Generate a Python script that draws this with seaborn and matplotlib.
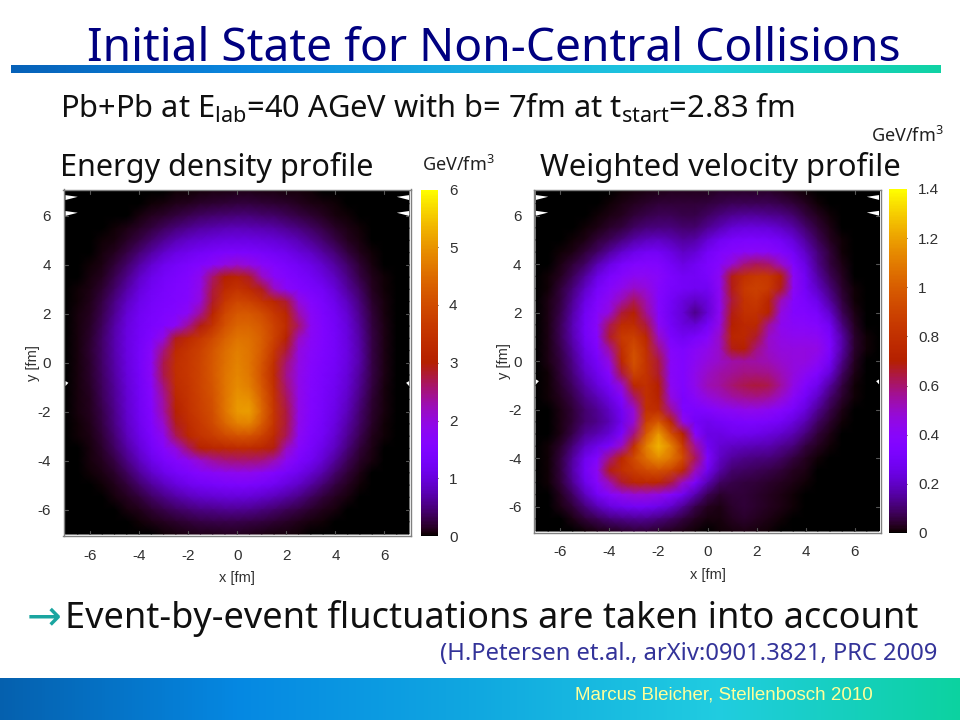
import numpy as np
import pandas as pd
import seaborn as sns
import matplotlib
matplotlib.use("Agg")
import matplotlib.pyplot as plt
from matplotlib.colors import LinearSegmentedColormap

sns.set_theme(style="white")
plt.rcParams["font.family"] = ["Noto Sans", "DejaVu Sans"]

W, H = 960, 720
grid_x = [-7, -6.5, -6, -5.5, -5, -4.5, -4, -3.5, -3, -2.5, -2, -1.5, -1, -.5, 0, .5, 1, 1.5, 2, 2.5, 3, 3.5, 4, 4.5, 5, 5.5, 6, 6.5, 7]
grid_y = grid_x[::-1]
axis_ticks = [-6, -4, -2, 0, 2, 4, 6]

energy_density = [
    [0,0,0,0,0,0,0,.01,.02,.03,.04,.06,.08,.09,.1,.1,.09,.08,.07,.05,.03,.02,.01,0,0,0,0,0,0],
    [0,0,0,0,0,0,.02,.04,.07,.1,.14,.18,.21,.23,.24,.24,.22,.2,.17,.13,.09,.06,.03,.01,0,0,0,0,0],
    [0,0,0,0,0,.02,.06,.12,.18,.25,.32,.38,.43,.46,.47,.47,.44,.4,.34,.27,.2,.13,.07,.03,.01,0,0,0,0],
    [0,0,0,0,.03,.08,.15,.25,.37,.48,.58,.66,.72,.76,.78,.77,.74,.68,.6,.5,.38,.27,.16,.08,.03,.01,0,0,0],
    [0,0,0,.03,.07,.15,.28,.43,.6,.76,.88,.96,1.02,1.06,1.07,1.06,1.03,.97,.88,.75,.6,.44,.28,.14,.06,.02,0,0,0],
    [0,0,.02,.05,.13,.26,.45,.66,.88,1.06,1.17,1.27,1.37,1.43,1.45,1.42,1.34,1.25,1.15,1.0,.85,.65,.45,.25,.11,.04,.01,0,0],
    [0,.01,.03,.09,.22,.4,.66,.92,1.15,1.3,1.42,1.55,1.72,1.95,2.1,1.95,1.72,1.55,1.4,1.25,1.08,.88,.65,.4,.2,.07,.02,0,0],
    [0,.02,.05,.14,.31,.56,.85,1.12,1.3,1.42,1.55,1.85,2.6,3.0,3.15,2.85,2.2,1.75,1.55,1.4,1.25,1.05,.8,.52,.28,.1,.03,0,0],
    [.01,.03,.08,.2,.42,.7,1.0,1.22,1.38,1.48,1.58,1.9,2.75,3.3,3.5,3.3,2.9,2.2,1.75,1.55,1.4,1.25,.98,.65,.38,.14,.04,.01,0],
    [.01,.04,.11,.26,.52,.83,1.12,1.3,1.42,1.52,1.62,2.0,2.85,3.6,3.9,3.8,3.5,3.2,2.8,2.0,1.6,1.38,1.12,.8,.47,.18,.06,.01,0],
    [.01,.05,.14,.32,.6,.95,1.2,1.38,1.48,1.58,1.8,2.4,3.15,3.9,4.2,4.2,4.0,3.6,3.2,2.3,1.75,1.45,1.22,.92,.55,.22,.07,.02,0],
    [.02,.06,.16,.37,.68,1.02,1.25,1.42,1.55,1.8,2.4,2.95,3.5,4.1,4.4,4.4,4.2,3.8,3.35,2.6,1.8,1.5,1.28,1.0,.62,.25,.08,.02,0],
    [.02,.07,.18,.4,.72,1.05,1.28,1.5,1.95,2.9,3.3,3.6,3.95,4.35,4.6,4.55,4.3,3.8,3.1,2.2,1.75,1.5,1.3,1.03,.66,.27,.09,.02,0],
    [.02,.07,.19,.42,.72,1.05,1.3,1.7,2.5,3.3,3.55,3.8,4.15,4.5,4.75,4.6,4.25,3.6,2.8,2.0,1.7,1.48,1.3,1.05,.68,.28,.09,.02,0],
    [.02,.07,.18,.4,.7,1.02,1.3,1.75,2.7,3.4,3.6,3.85,4.2,4.55,4.8,4.6,4.15,3.4,2.55,1.95,1.65,1.45,1.28,1.03,.68,.28,.09,.02,0],
    [.02,.06,.17,.38,.66,1.0,1.28,1.75,2.7,3.4,3.6,3.85,4.2,4.6,4.85,4.65,4.1,3.35,2.45,1.9,1.6,1.4,1.22,.98,.62,.26,.08,.02,0],
    [.02,.06,.16,.36,.63,.96,1.25,1.65,2.5,3.35,3.55,3.85,4.15,4.6,4.9,4.75,4.2,3.4,2.55,1.9,1.58,1.38,1.18,.92,.57,.24,.07,.02,0],
    [.02,.05,.14,.33,.6,.93,1.22,1.6,2.35,3.2,3.5,3.8,4.1,4.6,5.0,4.95,4.35,3.5,2.65,1.92,1.55,1.35,1.13,.85,.5,.21,.06,.01,0],
    [.01,.05,.13,.3,.56,.9,1.2,1.55,2.3,3.05,3.45,3.75,4.05,4.6,5.05,5.1,4.45,3.55,2.75,1.92,1.55,1.32,1.08,.78,.44,.18,.05,.01,0],
    [.01,.04,.11,.27,.52,.85,1.15,1.5,2.1,2.9,3.35,3.65,3.95,4.4,4.75,4.8,4.25,3.5,2.75,1.88,1.5,1.28,1.02,.7,.38,.15,.04,.01,0],
    [.01,.03,.09,.23,.46,.78,1.08,1.42,1.85,2.65,3.2,3.5,3.7,3.95,4.1,4.1,3.8,3.3,2.65,1.8,1.45,1.22,.93,.6,.31,.11,.03,0,0],
    [0,.02,.07,.18,.38,.66,.98,1.3,1.62,2.0,2.6,3.05,3.2,3.25,3.3,3.3,3.2,2.95,2.2,1.65,1.35,1.1,.8,.48,.23,.08,.02,0,0],
    [0,.01,.05,.12,.28,.52,.82,1.12,1.38,1.58,1.8,2.1,2.35,2.5,2.55,2.55,2.5,2.25,1.8,1.45,1.2,.92,.62,.35,.15,.05,.01,0,0],
    [0,0,.03,.08,.18,.36,.62,.88,1.12,1.3,1.45,1.6,1.72,1.8,1.85,1.85,1.75,1.55,1.35,1.15,.92,.68,.42,.22,.09,.02,0,0,0],
    [0,0,.01,.04,.1,.22,.4,.62,.82,1.0,1.13,1.25,1.33,1.38,1.4,1.38,1.3,1.18,1.02,.85,.65,.43,.25,.12,.04,.01,0,0,0],
    [0,0,0,.02,.05,.12,.23,.38,.53,.67,.78,.87,.93,.97,.98,.95,.88,.78,.66,.52,.37,.23,.12,.05,.02,0,0,0,0],
    [0,0,0,0,.02,.05,.11,.2,.3,.38,.46,.52,.56,.59,.6,.57,.5,.43,.35,.26,.18,.1,.05,.02,0,0,0,0,0],
    [0,0,0,0,0,.02,.04,.08,.13,.18,.22,.26,.29,.3,.3,.28,.25,.2,.16,.11,.07,.04,.02,0,0,0,0,0,0],
    [0,0,0,0,0,0,.01,.02,.04,.06,.08,.1,.11,.12,.12,.11,.09,.07,.05,.03,.02,.01,0,0,0,0,0,0,0],
]

weighted_velocity = [
    [0,0,0,0,0,0,.005,.01,.015,.02,.025,.03,.03,.03,.03,.04,.04,.04,.04,.04,.03,.02,.01,0,0,0,0,0,0],
    [0,0,0,0,0,.005,.01,.02,.03,.04,.05,.05,.05,.05,.06,.07,.08,.08,.08,.08,.07,.05,.03,.01,0,0,0,0,0],
    [0,0,0,0,.005,.01,.02,.03,.05,.07,.08,.08,.07,.07,.09,.12,.14,.15,.15,.14,.13,.1,.06,.03,.01,0,0,0,0],
    [0,0,0,.005,.01,.02,.04,.06,.09,.11,.12,.12,.1,.1,.14,.18,.22,.24,.24,.23,.2,.16,.1,.05,.02,0,0,0,0],
    [0,0,.005,.01,.02,.05,.08,.12,.16,.19,.2,.18,.15,.16,.22,.28,.32,.33,.33,.32,.29,.23,.15,.08,.03,.01,0,0,0],
    [0,0,.01,.02,.05,.09,.15,.21,.26,.29,.29,.25,.2,.22,.3,.35,.38,.4,.41,.4,.36,.3,.2,.11,.05,.01,0,0,0],
    [0,.005,.02,.05,.09,.17,.25,.32,.36,.37,.36,.3,.25,.28,.33,.38,.48,.58,.62,.6,.5,.36,.25,.13,.06,.02,.005,0,0],
    [0,.01,.03,.08,.15,.25,.33,.38,.42,.42,.39,.33,.29,.29,.32,.42,.68,.8,.85,.84,.72,.42,.28,.16,.08,.03,.005,0,0],
    [0,.01,.05,.11,.2,.31,.38,.44,.5,.47,.38,.32,.3,.28,.28,.42,.68,.85,.89,.85,.68,.42,.3,.2,.11,.04,.01,0,0],
    [0,.02,.06,.14,.25,.35,.43,.53,.62,.52,.37,.3,.24,.2,.24,.42,.65,.82,.85,.74,.52,.38,.33,.26,.15,.06,.01,0,0],
    [0,.02,.07,.16,.28,.38,.47,.65,.7,.56,.38,.28,.22,.13,.22,.42,.68,.8,.8,.72,.46,.37,.36,.32,.21,.08,.02,0,0],
    [0,.02,.08,.18,.3,.4,.62,.78,.78,.64,.42,.3,.24,.22,.3,.45,.7,.76,.75,.56,.43,.4,.39,.37,.28,.12,.03,.005,0],
    [0,.02,.08,.17,.29,.38,.66,.85,.88,.75,.5,.33,.28,.32,.38,.5,.74,.76,.66,.5,.45,.43,.43,.42,.33,.16,.04,.01,0],
    [0,.02,.07,.15,.26,.35,.55,.8,.94,.8,.58,.38,.34,.4,.44,.5,.68,.7,.58,.5,.47,.46,.46,.45,.34,.16,.04,.01,0],
    [0,.02,.06,.13,.23,.31,.46,.76,.96,.82,.65,.4,.36,.42,.47,.5,.54,.55,.54,.52,.49,.47,.46,.42,.3,.13,.03,.005,0],
    [0,.01,.05,.11,.2,.27,.38,.64,.9,.82,.66,.4,.36,.44,.5,.54,.56,.58,.58,.57,.52,.47,.42,.35,.23,.09,.02,0,0],
    [0,.01,.04,.09,.16,.23,.31,.48,.75,.8,.7,.42,.35,.44,.52,.55,.6,.63,.65,.63,.55,.45,.36,.27,.15,.06,.01,0,0],
    [0,.01,.03,.07,.13,.18,.25,.36,.6,.8,.72,.46,.33,.4,.46,.5,.54,.56,.57,.55,.49,.4,.3,.2,.1,.04,.01,0,0],
    [0,.005,.02,.05,.1,.14,.2,.29,.48,.8,.78,.56,.34,.33,.36,.4,.42,.44,.44,.42,.38,.32,.24,.14,.07,.02,.005,0,0],
    [0,.005,.02,.05,.1,.13,.18,.27,.48,.88,.98,.75,.44,.3,.27,.3,.32,.33,.33,.32,.29,.24,.17,.09,.04,.01,0,0,0],
    [0,.005,.02,.07,.14,.17,.22,.33,.58,.98,1.18,.95,.7,.38,.25,.25,.27,.27,.26,.24,.21,.17,.11,.05,.02,.005,0,0,0],
    [0,.01,.04,.11,.2,.26,.32,.5,.8,1.1,1.25,1.12,.85,.55,.28,.22,.2,.19,.18,.17,.14,.11,.06,.03,.01,0,0,0,0],
    [0,.01,.06,.15,.27,.36,.58,.76,.92,1.06,1.15,1.08,.92,.62,.34,.2,.15,.13,.12,.11,.09,.06,.03,.01,0,0,0,0,0],
    [0,.01,.06,.16,.29,.42,.68,.8,.86,.92,.95,.9,.76,.52,.28,.16,.1,.09,.08,.07,.05,.03,.02,.005,0,0,0,0,0],
    [0,.01,.05,.14,.26,.38,.53,.66,.74,.76,.74,.65,.5,.33,.18,.09,.07,.06,.05,.04,.03,.02,.01,0,0,0,0,0,0],
    [0,.005,.03,.09,.19,.3,.38,.44,.48,.48,.45,.38,.28,.17,.08,.04,.05,.05,.04,.03,.02,.01,.005,0,0,0,0,0,0],
    [0,0,.02,.05,.11,.18,.24,.27,.29,.29,.26,.21,.14,.07,.03,.02,.04,.05,.04,.03,.02,.01,0,0,0,0,0,0,0],
    [0,0,.005,.02,.05,.08,.11,.13,.14,.14,.12,.09,.06,.03,.015,.015,.03,.04,.03,.02,.01,.005,0,0,0,0,0,0,0],
    [0,0,0,.005,.01,.02,.03,.04,.05,.05,.04,.03,.02,.01,.005,.01,.015,.02,.015,.01,.005,0,0,0,0,0,0,0,0],
]

energy_ticks = [0, 1, 2, 3, 4, 5, 6]
velocity_ticks = [0, .2, .4, .6, .8, 1, 1.2, 1.4]
velocity_tick_labels = ["0", "0.2", "0.4", "0.6", "0.8", "1", "1.2", "1.4"]
notch_levels = [6.75, 6.1, -0.85]

rule_colors = ["#0661B8", "#0A86DE", "#18AEE0", "#1FCDDC", "#10D2A4"]
band_colors = ["#0560AE", "#0588E2", "#10A8E0", "#20CCE0", "#0CD2A0"]

fig = plt.figure(figsize=(W / 100, H / 100), dpi=100, facecolor="white")


def box(x0, y0, x1, y1):
    return [x0 / W, 1 - y1 / H, (x1 - x0) / W, (y1 - y0) / H]


def label(x, y, s, **kw):
    return fig.text(x / W, 1 - y / H, s, va="baseline", **kw)


def gradient(rect, colors):
    a = fig.add_axes(box(*rect))
    cmap = LinearSegmentedColormap.from_list("slide", colors)
    sns.heatmap(pd.DataFrame([np.arange(960)]), ax=a, cmap=cmap,
                cbar=False, xticklabels=False, yticklabels=False)
    a.set_axis_off()


gradient((11, 65, 941, 73), rule_colors)
gradient((0, 678, 960, 720), band_colors)


def col(v):
    return grid_x.index(v)


def row(v):
    return grid_y.index(v)


def profile(data, vmax, frame, cframe, ticks, tick_labels):
    ax = fig.add_axes(box(*frame))
    cax = fig.add_axes(box(*cframe))
    df = pd.DataFrame(data, index=grid_y, columns=grid_x)
    sns.heatmap(df, ax=ax, cbar_ax=cax, cmap="gnuplot", vmin=0, vmax=vmax,
                xticklabels=False, yticklabels=False, shading="gouraud")
    n = len(grid_x) - 1
    scale = n / 14
    img = ax.imshow(df.values, cmap="gnuplot", vmin=0, vmax=vmax, aspect="auto",
                    interpolation="bicubic", extent=(-0.5, n + 0.5, n + 0.5, -0.5))
    pad = 0.08 * scale
    ax.set_xlim(-pad, n + pad)
    ax.set_ylim(n + pad, -pad)
    ax.set_facecolor("white")
    img.set_clip_path(plt.Rectangle((0, 0), n, n, transform=ax.transData))
    ax.set_xticks([col(t) for t in axis_ticks])
    ax.set_xticklabels([str(t) for t in axis_ticks])
    ax.set_yticks([row(t) for t in axis_ticks])
    ax.set_yticklabels([str(t) for t in axis_ticks])
    ax.tick_params(direction="out", length=0, labelsize=11, labelcolor="#303030",
                   pad=9, labelfontfamily="Liberation Sans")
    for s in ax.spines.values():
        s.set_visible(True)
        s.set_color("#808080")
        s.set_linewidth(1.0)
    tl = 0.12 * scale
    for t in axis_ticks:
        for yy, d in ((0, tl), (n, -tl)):
            ax.plot([col(t)] * 2, [yy, yy + d], color="#555555", lw=0.8)
        for xx, d in ((0, tl), (n, -tl)):
            ax.plot([xx, xx + d], [row(t)] * 2, color="#555555", lw=0.8)
    for lv in notch_levels:
        size = (0.5 if lv > 0 else 0.12) * scale
        r = (grid_y[0] - lv) * scale
        h = 0.1 * scale
        ax.fill([0, size, 0], [r - h, r - 0.3 * h, r + h], color="white", lw=0)
        ax.fill([n, n - size, n], [r - h, r - 0.3 * h, r + h], color="white", lw=0)
    ax.set_xlabel("x [fm]", fontsize=10.5, color="#303030", family="Liberation Sans", labelpad=6)
    ax.set_ylabel("y [fm]", fontsize=10.5, color="#303030", family="Liberation Sans", labelpad=-2)
    cax.set_yticks(ticks)
    cax.set_yticklabels(tick_labels)
    cax.tick_params(axis="y", which="both", left=True, right=True, direction="in",
                    length=4, width=0.8, color="#402020", labelsize=11,
                    labelcolor="#303030", pad=8, labelfontfamily="Liberation Sans")
    major = cax.yaxis.get_major_ticks()
    for tk in (major[0], major[-1]):
        tk.tick1line.set_visible(False)
        tk.tick2line.set_visible(False)
    return ax


profile(energy_density, 6, (63.5, 189.5, 411, 536), (421, 189.5, 438, 536),
        energy_ticks, [str(t) for t in energy_ticks])
profile(weighted_velocity, 1.4, (534, 189.5, 881, 533), (889, 189, 907, 533),
        velocity_ticks, velocity_tick_labels)

label(87, 61, "Initial State for Non-Central Collisions", fontsize=33.3, color="#000080")
label(60, 118, r"Pb+Pb at E$_{\mathregular{lab}}$=40 AGeV with b= 7fm at t$_{\mathregular{start}}$=2.83 fm",
      fontsize=22.2, color="#101010")
label(60, 176, "Energy density profile", fontsize=22, color="#101010")
label(540, 176, "Weighted velocity profile", fontsize=22.3, color="#101010")
unit = r"GeV/fm$^{\mathregular{3}}$"
label(422, 171, unit, fontsize=13, color="#202020")
label(871, 142, unit, fontsize=13, color="#202020")
label(27, 629, "\u2192", fontsize=30, color="#1AA5A0", family="DejaVu Sans")
label(65, 628, "Event-by-event fluctuations are taken into account", fontsize=26, color="#101010")
label(440, 660, "(H.Petersen et.al., arXiv:0901.3821, PRC 2009", fontsize=17.1, color="#333399")
label(575, 700, "Marcus Bleicher, Stellenbosch 2010", fontsize=13.5, color="#FFFF99", family="Liberation Sans")

fig.savefig("out.png", dpi=100)
